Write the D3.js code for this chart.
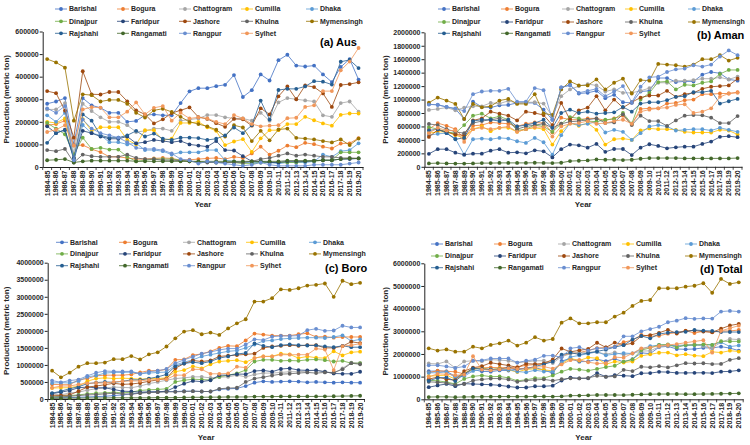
<!DOCTYPE html>
<html><head><meta charset="utf-8">
<script src="https://cdn.jsdelivr.net/npm/d3@7"></script>
<style>body{margin:0;background:#fff}svg{display:block;font-family:"Liberation Sans",Arial,sans-serif}</style>
</head><body><svg id="c" width="750" height="445"></svg>
<script>
// values in thousand metric tons
const UNIT = 1000;
const years = ["1984-85","1985-86","1986-87","1987-88","1988-89","1989-90","1990-91","1991-92","1992-93","1993-94","1994-95","1995-96","1996-97","1997-98","1998-99","1999-00","2000-01","2001-02","2002-03","2003-04","2004-05","2005-06","2006-07","2007-08","2008-09","2009-10","2010-11","2011-12","2012-13","2013-14","2014-15","2015-16","2016-17","2017-18","2018-19","2019-20"];
const districts = ["Barishal","Bogura","Chattogram","Cumilla","Dhaka","Dinajpur","Faridpur","Jashore","Khulna","Mymensingh","Rajshahi","Rangamati","Rangpur","Sylhet"];
const colors = ["#4472C4","#ED7D31","#A5A5A5","#FFC000","#5B9BD5","#70AD47","#264478","#9E480E","#636363","#997300","#255E91","#43682B","#698ED0","#F1975A"];

const ausTicks = [0,100000,200000,300000,400000,500000,600000];
const amanTicks = [0,200000,400000,600000,800000,1000000,1200000,1400000,1600000,1800000,2000000];
const boroTicks = [0,500000,1000000,1500000,2000000,2500000,3000000,3500000,4000000];
const totalTicks = [0,1000000,2000000,3000000,4000000,5000000,6000000];

// (a) Aus
const aus_Barishal = [280,290,305,100,305,273,262,240,240,200,204,229,233,229,229,283,335,349,349,358,364,407,310,340,410,383,473,497,449,445,449,410,376,443,478,387];
const aus_Bogura = [185,190,205,95,97,79,66,45,45,40,35,35,38,40,38,30,32,35,38,40,35,45,40,60,90,55,72,95,88,107,101,90,82,104,105,128];
const aus_Chattogram = [255,255,283,60,280,248,220,200,200,185,155,160,170,170,160,205,210,215,230,230,220,215,215,205,240,205,286,305,300,295,290,229,222,283,290,245];
const aus_Cumilla = [200,195,215,40,212,160,176,176,176,120,100,163,163,119,125,195,195,200,176,160,97,113,123,67,127,163,163,190,190,222,207,193,183,231,237,237];
const aus_Dhaka = [229,200,240,25,186,150,140,110,110,100,105,75,75,70,55,65,65,65,75,75,30,25,20,20,20,20,15,20,20,20,25,55,45,70,75,105];
const aus_Dinajpur = [195,170,145,55,130,80,85,77,77,45,25,30,35,35,35,30,25,22,22,20,20,20,15,15,20,20,20,20,20,25,25,30,30,65,65,65];
const aus_Faridpur = [180,150,165,40,160,150,135,125,125,135,105,110,120,115,110,115,100,95,90,115,75,73,48,25,25,20,20,25,25,25,28,30,30,35,35,38];
const aus_Jashore = [336,327,250,130,424,322,321,332,332,291,251,233,193,211,239,251,264,221,213,194,178,213,211,183,260,233,313,357,300,361,354,326,266,363,367,375];
const aus_Khulna = [75,70,80,20,55,48,45,45,45,55,40,35,35,30,30,28,25,22,20,20,20,20,20,25,35,40,50,60,50,55,50,45,45,40,40,38];
const aus_Mymensingh = [478,463,440,205,322,318,290,297,297,280,240,219,251,258,244,222,200,190,180,165,135,185,175,115,160,118,166,170,129,126,122,115,109,122,97,126];
const aus_Rajshahi = [107,151,163,35,233,205,140,130,130,140,160,135,148,125,120,130,130,128,120,125,140,175,150,185,294,210,341,346,346,357,380,378,365,466,474,438];
const aus_Rangamati = [30,32,35,20,25,28,28,28,28,28,25,25,25,25,25,25,25,25,25,25,25,25,25,25,25,25,25,28,28,28,28,30,30,35,38,38];
const aus_Rangpur = [260,240,270,30,210,170,150,140,130,110,85,80,80,75,60,35,30,15,25,20,15,10,5,10,20,10,5,5,5,5,10,10,10,10,15,20];
const aus_Sylhet = [155,165,185,95,255,265,263,220,220,245,286,233,262,270,205,240,215,220,215,200,190,230,215,190,180,183,185,216,218,266,273,336,336,428,467,527];

// (b) Aman
const aman_Barishal = [930,920,890,860,710,970,890,880,915,920,950,950,950,850,700,1180,1220,1090,1100,1130,1020,1070,960,950,1120,1130,1320,1320,1260,1270,1270,1370,1410,1390,1300,1280];
const aman_Bogura = [560,650,610,560,420,610,620,660,650,640,600,640,660,650,510,730,700,700,720,720,690,720,760,630,860,870,870,940,950,990,1000,1080,1080,1090,1090,1110];
const aman_Chattogram = [845,860,880,840,880,900,900,950,940,980,950,960,960,940,750,1050,1150,1200,1230,1210,1120,1150,1100,1100,1130,1170,1250,1250,1280,1280,1290,1310,1310,1330,1300,1340];
const aman_Cumilla = [500,520,520,470,430,560,600,530,580,580,520,560,580,560,330,530,650,610,650,550,330,410,420,400,540,570,560,560,550,520,510,510,510,550,540,480];
const aman_Dhaka = [470,490,500,420,180,410,420,410,430,420,380,355,430,365,180,470,650,620,640,670,510,550,520,400,500,600,620,600,540,550,560,560,540,580,550,520];
const aman_Dinajpur = [590,560,520,500,620,760,790,720,750,700,540,560,620,600,520,640,740,720,680,670,700,710,800,640,1000,1100,1260,1270,1150,1220,1210,1250,1270,1380,1440,1440];
const aman_Faridpur = [193,262,262,210,180,195,195,240,262,210,215,200,245,230,140,262,330,320,285,340,222,265,265,175,285,335,310,275,290,300,300,340,375,445,455,440];
const aman_Jashore = [444,550,520,480,470,690,720,820,790,760,690,820,800,770,620,950,700,840,880,1050,840,1000,880,960,1030,1060,1060,1130,1040,1080,1100,1160,1190,1200,1210,1310];
const aman_Khulna = [637,620,560,520,500,650,680,700,720,680,560,600,620,640,580,640,670,680,700,720,650,660,780,620,760,680,680,607,690,760,770,765,730,650,650,755];
const aman_Mymensingh = [953,1030,985,935,711,935,885,900,985,1010,935,935,1080,795,770,1150,1270,1210,1210,1300,1150,1250,1310,1090,1290,1280,1530,1520,1510,1490,1520,1600,1600,1660,1580,1620];
const aman_Rajshahi = [540,560,500,410,430,680,700,700,680,700,600,620,650,700,580,800,850,800,820,790,800,810,890,820,940,960,960,990,1040,1050,1110,1110,1130,940,975,1010];
const aman_Rangamati = [50,55,50,48,48,50,55,55,58,58,58,58,60,58,55,60,85,90,95,110,105,105,100,105,120,130,130,130,130,125,125,125,125,125,125,130];
const aman_Rangpur = [925,925,890,870,830,1080,1120,1130,1130,1160,970,970,1170,1140,700,1180,1210,1100,1130,1160,1050,1120,1200,960,1190,1330,1340,1410,1450,1460,1510,1490,1520,1640,1730,1660];
const aman_Sylhet = [500,580,540,540,370,560,580,560,580,600,520,560,590,590,450,600,640,650,680,640,650,680,700,640,820,850,870,880,920,930,800,820,870,1040,1090,1100];

// (c) Boro
const boro_Barishal = [30,40,40,50,60,70,80,100,120,150,180,200,210,220,220,230,230,220,220,280,300,310,380,480,520,500,510,520,510,490,500,490,480,490,480,480];
const boro_Bogura = [430,420,420,560,600,680,700,700,700,720,780,830,830,870,1150,1160,1290,1320,1400,1500,1560,1550,1720,1920,1890,1860,1860,1860,1900,1930,1820,1830,1800,1820,1820,1820];
const boro_Chattogram = [150,120,180,200,260,300,320,350,340,330,380,450,500,550,600,620,650,650,620,640,650,700,650,720,760,760,780,800,800,820,850,800,750,900,1070,1050];
const boro_Cumilla = [320,330,330,380,520,600,620,600,610,600,580,600,600,620,800,850,960,900,1020,1100,1120,1140,1080,1200,1250,1250,1330,1310,1200,1250,1210,1200,1400,1280,1370,1390];
const boro_Dhaka = [470,480,470,520,650,690,760,780,780,790,740,760,780,790,1000,1080,1150,1250,1300,1350,1400,1420,1500,1600,1700,1720,1760,1780,1790,1800,1800,1790,1820,1870,1700,1750];
const boro_Dinajpur = [60,80,100,120,150,170,180,200,180,200,250,270,280,300,500,550,580,570,560,650,700,750,850,1100,1150,1150,1120,1130,1120,1150,1160,1140,1100,1120,1050,1050];
const boro_Faridpur = [160,200,250,330,350,330,330,280,230,220,200,210,210,230,350,450,530,510,550,700,700,730,730,820,840,800,880,900,850,840,840,800,750,740,740,800];
const boro_Jashore = [110,100,120,230,350,380,420,460,430,440,470,520,560,600,900,1040,1130,1100,1130,1250,1270,1290,1310,1330,1500,1540,1560,1580,1560,1580,1580,1500,1500,1550,1680,1640];
const boro_Khulna = [60,60,80,100,120,130,150,170,150,140,170,190,200,210,210,220,230,220,220,300,320,330,500,600,640,690,730,740,760,780,760,780,780,870,1050,1020];
const boro_Mymensingh = [831,636,773,950,1050,1050,1070,1170,1170,1260,1160,1310,1370,1540,1780,1980,2020,1900,1950,1880,2070,2220,2340,2860,2860,2960,3220,3200,3250,3330,3350,3390,3000,3470,3370,3410];
const boro_Rajshahi = [170,230,300,360,450,480,500,490,520,560,560,600,650,720,960,1040,1080,1050,1100,1200,1250,1320,1350,1630,1560,1520,1580,1600,1580,1570,1570,1540,1520,1560,1520,1520];
const boro_Rangamati = [20,20,25,25,30,30,30,35,35,35,35,35,40,40,40,45,50,50,55,55,60,60,60,70,70,70,75,75,75,75,75,78,80,85,90,95];
const boro_Rangpur = [540,490,540,570,680,770,820,810,810,810,740,800,830,880,1050,1150,1240,1330,1380,1440,1480,1480,1600,1750,1730,1830,1850,1850,1860,2020,2060,2000,2010,2150,2100,2100];
const boro_Sylhet = [330,380,380,430,460,470,470,500,520,530,530,560,570,580,700,700,870,870,740,740,750,950,920,1200,1250,1250,1300,1300,1300,1300,1480,1450,850,1550,1580,1620];

// (d) Total
const total_Barishal = [1240,1250,1235,1010,1075,1313,1232,1220,1275,1270,1334,1379,1393,1299,1149,1693,1785,1659,1669,1768,1684,1787,1650,1770,2050,2013,2303,2337,2219,2205,2219,2270,2266,2323,2258,2147];
const total_Bogura = [1175,1260,1235,1215,1117,1369,1386,1405,1395,1400,1415,1505,1528,1560,1698,1920,2022,2055,2158,2260,2285,2315,2520,2610,2840,2785,2802,2895,2938,3027,2921,3000,2962,3014,3015,3058];
const total_Chattogram = [1580,1560,1670,1380,1670,1700,1680,1750,1730,1700,1620,1650,1700,1700,1600,1880,2010,2065,2080,2080,1990,2065,1965,2025,2130,2135,2316,2355,2380,2395,2430,2339,2282,2513,2660,2635];
const total_Cumilla = [1020,1045,1065,890,1162,1320,1396,1306,1366,1300,1200,1323,1343,1299,1255,1575,1805,1710,1846,1810,1547,1663,1623,1667,1917,1983,2053,2060,1940,1992,1927,1903,2093,2061,2147,2107];
const total_Dhaka = [1169,1170,1210,965,1016,1250,1320,1300,1320,1310,1225,1190,1285,1225,1235,1615,1865,1935,2015,2095,1940,1995,2040,2020,2220,2340,2395,2400,2350,2370,2385,2405,2405,2520,2325,2375];
const total_Dinajpur = [845,810,765,675,900,1010,1055,997,1007,945,815,860,935,935,1055,1220,1345,1312,1262,1340,1420,1480,1665,1755,2170,2270,2400,2420,2290,2395,2395,2420,2400,2565,2555,2555];
const total_Faridpur = [533,612,677,580,690,675,660,645,617,565,520,520,575,575,600,827,960,925,925,1155,997,1068,1043,1020,1150,1155,1210,1200,1165,1165,1168,1170,1155,1220,1230,1278];
const total_Jashore = [890,977,890,840,1244,1392,1461,1612,1552,1491,1411,1573,1553,1581,1759,2241,2094,2161,2223,2494,2288,2503,2401,2473,2790,2833,2933,3067,2900,3021,3034,2986,2956,3113,3257,3325];
const total_Khulna = [772,750,720,640,675,828,875,915,915,875,770,825,855,880,820,888,925,922,940,1040,990,1010,1300,1245,1435,1410,1460,1407,1500,1595,1580,1590,1555,1560,1740,1813];
const total_Mymensingh = [2250,2150,2200,2100,2100,2320,2250,2400,2470,2590,2370,2500,2740,2590,2660,3380,3570,3350,3350,3400,3400,3650,3820,4120,4340,4380,4900,4900,4900,4970,5010,5120,4700,5310,5090,5160];
const total_Rajshahi = [817,941,963,805,1113,1365,1340,1320,1330,1400,1320,1355,1448,1545,1660,1970,2060,1978,2040,2115,2190,2305,2390,2635,2794,2690,2881,2936,2966,2977,3060,3028,3015,2966,2969,2968];
const total_Rangamati = [100,107,110,93,103,108,113,118,121,121,118,118,125,123,120,130,160,165,175,190,190,190,185,200,215,225,230,233,233,228,228,233,235,245,253,263];
const total_Rangpur = [1500,1500,1450,1380,1450,1700,1720,1800,1800,1800,1620,1700,1750,1920,1930,1850,2250,2300,2150,2250,2250,2300,2780,2780,3000,3100,3200,3400,3470,3580,3550,3570,3560,3870,3900,3870];
const total_Sylhet = [985,1125,1105,1065,1085,1900,1313,1280,1320,1375,1336,1353,1422,1440,1355,1540,1725,1740,1635,1580,1590,1860,1835,2030,2250,2283,2355,2396,2438,2496,2553,2606,2056,3018,3137,3247];

const ausSeries = [aus_Barishal,aus_Bogura,aus_Chattogram,aus_Cumilla,aus_Dhaka,aus_Dinajpur,aus_Faridpur,aus_Jashore,aus_Khulna,aus_Mymensingh,aus_Rajshahi,aus_Rangamati,aus_Rangpur,aus_Sylhet];
const amanSeries = [aman_Barishal,aman_Bogura,aman_Chattogram,aman_Cumilla,aman_Dhaka,aman_Dinajpur,aman_Faridpur,aman_Jashore,aman_Khulna,aman_Mymensingh,aman_Rajshahi,aman_Rangamati,aman_Rangpur,aman_Sylhet];
const boroSeries = [boro_Barishal,boro_Bogura,boro_Chattogram,boro_Cumilla,boro_Dhaka,boro_Dinajpur,boro_Faridpur,boro_Jashore,boro_Khulna,boro_Mymensingh,boro_Rajshahi,boro_Rangamati,boro_Rangpur,boro_Sylhet];
const totalSeries = [total_Barishal,total_Bogura,total_Chattogram,total_Cumilla,total_Dhaka,total_Dinajpur,total_Faridpur,total_Jashore,total_Khulna,total_Mymensingh,total_Rajshahi,total_Rangamati,total_Rangpur,total_Sylhet];

// layout (positions/sizes only)
const panels = [
  {title:"(a) Aus", series:ausSeries, ticks:ausTicks, x0:42.7, x1:363, yTop:31.5, yBot:167, tx:320, ty:46, ylx:6.5, yearY:207,
   lcols:[55,117,179,241,306], lrows:[9,21.3,33.3]},
  {title:"(b) Aman", series:amanSeries, ticks:amanTicks, x0:424.5, x1:742, yTop:32.3, yBot:166.8, tx:697, ty:38.5, ylx:385, yearY:207,
   lcols:[438,501,562,625,688], lrows:[9,22,33.3]},
  {title:"(c) Boro", series:boroSeries, ticks:boroTicks, x0:47.7, x1:364.5, yTop:262.7, yBot:399, tx:325, ty:272, ylx:6.5, yearY:440,
   lcols:[56,119,183,246,309], lrows:[242.3,253.9,265.7]},
  {title:"(d) Total", series:totalSeries, ticks:totalTicks, x0:424.3, x1:743.2, yTop:263.3, yBot:399.3, tx:700, ty:273, ylx:385, yearY:440,
   lcols:[431,494,558,622,685], lrows:[244,256,267.7]}
];

const svg = d3.select("#c");
const textCol = "#262626";

panels.forEach(p => {
  const g = svg.append("g");
  const x = d3.scaleBand().domain(years).range([p.x0, p.x1]).padding(0);
  const y = d3.scaleLinear().domain([0, p.ticks[p.ticks.length-1]]).range([p.yBot, p.yTop]);
  const cx = d => x(d) + x.bandwidth()/2;

  // y axis
  const ya = g.append("g").attr("transform", `translate(${p.x0},0)`)
    .call(d3.axisLeft(y).tickValues(p.ticks).tickSize(3).tickSizeOuter(0).tickFormat(d3.format("d")));
  ya.select(".domain").attr("stroke", "#222");
  ya.selectAll(".tick line").attr("stroke", "#222");
  ya.selectAll(".tick text").attr("x", -4).attr("fill", textCol)
    .style("font-size", "7px").style("font-weight", "bold").style("font-family", "Liberation Sans, Arial, sans-serif");

  // x axis
  const xa = g.append("g").attr("transform", `translate(0,${p.yBot})`)
    .call(d3.axisBottom(x).tickSize(0).tickSizeOuter(0));
  xa.select(".domain").attr("stroke", "#222");
  xa.selectAll(".tick text")
    .attr("transform", "rotate(-90)").attr("x", -3.5).attr("y", 0).attr("dy", "0.35em")
    .style("text-anchor", "end").attr("fill", textCol)
    .style("font-size", "7px").style("font-weight", "bold").style("font-family", "Liberation Sans, Arial, sans-serif");
  // category boundary tick marks
  g.append("g").selectAll("line").data(years.concat(["__end"])).join("line")
    .attr("x1", d => d === "__end" ? p.x1 : x(d)).attr("x2", d => d === "__end" ? p.x1 : x(d))
    .attr("y1", p.yBot).attr("y2", p.yBot + 3).attr("stroke", "#222").attr("stroke-width", 0.8);

  // series
  const line = d3.line().x((d, i) => cx(years[i])).y(d => y(d * UNIT));
  p.series.forEach((vals, k) => {
    const sg = g.append("g");
    sg.append("path").datum(vals).attr("d", line).attr("fill", "none")
      .attr("stroke", colors[k]).attr("stroke-width", 1).attr("stroke-opacity", 0.8);
    sg.selectAll("circle").data(vals).join("circle")
      .attr("cx", (d, i) => cx(years[i])).attr("cy", d => y(d * UNIT)).attr("r", 1.9)
      .attr("fill", colors[k]);
  });

  // axis titles
  g.append("text").attr("transform", `translate(${p.ylx},${(p.yTop + p.yBot) / 2}) rotate(-90)`)
    .attr("text-anchor", "middle").attr("dy", "0.35em").attr("fill", textCol)
    .style("font-size", "8px").style("font-weight", "bold").text("Production (metric ton)");
  g.append("text").attr("x", (p.x0 + p.x1) / 2).attr("y", p.yearY).attr("text-anchor", "middle")
    .attr("fill", textCol).style("font-size", "8px").style("font-weight", "bold").text("Year");

  // panel title
  g.append("text").attr("x", p.tx).attr("y", p.ty).attr("fill", "#000")
    .style("font-size", "11px").style("font-weight", "bold").text(p.title);

  // legend
  const lg = g.append("g");
  districts.forEach((name, k) => {
    const lx = p.lcols[k % 5], ly = p.lrows[Math.floor(k / 5)];
    lg.append("line").attr("x1", lx).attr("x2", lx + 12).attr("y1", ly).attr("y2", ly)
      .attr("stroke", colors[k]).attr("stroke-width", 1).attr("stroke-opacity", 0.8);
    lg.append("circle").attr("cx", lx + 6).attr("cy", ly).attr("r", 1.9).attr("fill", colors[k]);
    lg.append("text").attr("x", lx + 14).attr("y", ly).attr("dy", "0.35em").attr("fill", textCol)
      .style("font-size", "7px").style("font-weight", "bold").text(name);
  });
});
</script></body></html>
